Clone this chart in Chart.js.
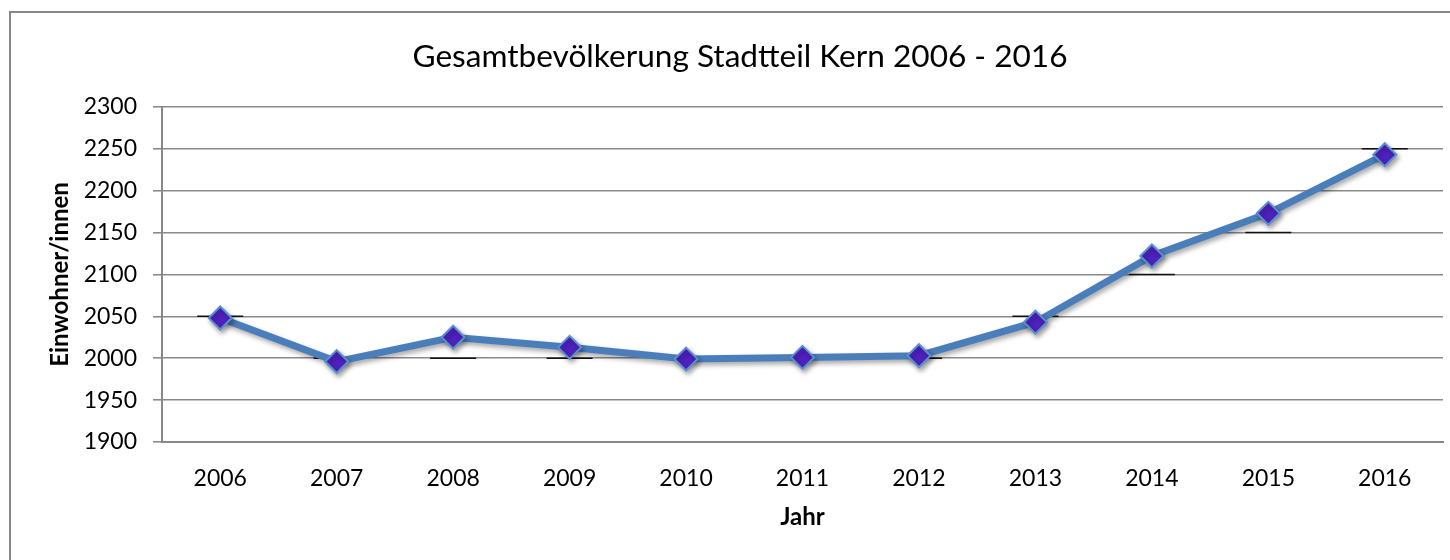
<!DOCTYPE html>
<html>
<head>
<meta charset="utf-8">
<script src="https://cdn.jsdelivr.net/npm/chart.js@4/dist/chart.umd.min.js"></script>
<style>
html,body{margin:0;padding:0;overflow:hidden;background:#fff;width:1450px;height:560px;}
canvas{display:block;}
</style>
</head>
<body>
<canvas id="c" width="1480" height="580"></canvas>
<script>
const years = ['2006','2007','2008','2009','2010','2011','2012','2013','2014','2015','2016'];
const population = [2048, 1996, 2025, 2013, 1999, 2001, 2003, 2043, 2122, 2173, 2243];
const roundedMarks = [2050, 2000, 2000, 2000, 2000, 2000, 2000, 2050, 2100, 2150, 2250];
const yMin = 1900, yMax = 2300, yStep = 50;
const titleText = 'Gesamtbevölkerung Stadtteil Kern 2006 - 2016';
const xTitle = 'Jahr';
const yTitle = 'Einwohner/innen';

const FONT = 'Lato, "Open Sans", sans-serif';

const framePlugin = {
  id: 'frame',
  beforeDraw(chart) {
    const ctx = chart.ctx;
    ctx.save();
    ctx.fillStyle = '#ffffff';
    ctx.fillRect(0, 0, chart.width, chart.height);
    ctx.strokeStyle = '#878787';
    ctx.lineWidth = 2;
    ctx.strokeRect(10, 12, 1460, 560);
    ctx.restore();
  }
};

const shadowPlugin = {
  id: 'shadow',
  beforeDatasetDraw(chart, args) {
    if (args.index !== 0) return;
    const ctx = chart.ctx;
    ctx.save();
    ctx.shadowColor = 'rgba(0,0,0,0.35)';
    ctx.shadowBlur = 5;
    ctx.shadowOffsetX = 2;
    ctx.shadowOffsetY = 3;
  },
  afterDatasetDraw(chart, args) {
    if (args.index !== 0) return;
    chart.ctx.restore();
  }
};

new Chart(document.getElementById('c'), {
  type: 'line',
  data: {
    labels: years,
    datasets: [
      {
        label: 'Gesamtbevölkerung',
        data: population,
        order: 1,
        borderColor: '#4A7EBB',
        borderWidth: 7,
        tension: 0,
        pointStyle: 'rectRot',
        pointRadius: 11.5,
        pointBackgroundColor: '#4F21BF',
        pointBorderColor: '#5A8FD0',
        pointBorderWidth: 2,
        fill: false
      },
      {
        label: 'gerundet',
        data: roundedMarks,
        order: 2,
        showLine: false,
        pointStyle: 'line',
        pointRadius: 23,
        pointBorderColor: '#111111',
        pointBorderWidth: 1.5,
        pointBackgroundColor: '#111111'
      }
    ]
  },
  options: {
    responsive: false,
    animation: false,
    events: [],
    layout: { padding: { left: 37, top: 0, right: 37, bottom: 38 } },
    plugins: {
      legend: { display: false },
      tooltip: { enabled: false },
      title: {
        display: true,
        text: titleText,
        color: '#000',
        font: { family: FONT, size: 31.6, weight: 'normal', lineHeight: 1.2 },
        padding: { top: 38, bottom: 31 }
      }
    },
    scales: {
      x: {
        offset: true,
        grid: { display: false, drawTicks: false, offset: true },
        border: { display: true, color: '#888888', width: 2 },
        ticks: { color: '#000', padding: 23, font: { family: FONT, size: 23, lineHeight: 1.2 } },
        title: { display: true, text: xTitle, color: '#000', padding: { top: 0, bottom: 10 }, font: { family: FONT, size: 24, weight: 'bold', lineHeight: 1.2 } },
        afterFit(scale) { scale.height = 100; }
      },
      y: {
        min: yMin,
        max: yMax,
        grid: { color: '#8a8a8a', lineWidth: 1.6, drawTicks: true, tickLength: 9 },
        border: { display: true, color: '#888888', width: 2 },
        ticks: { stepSize: yStep, color: '#000', padding: 16, font: { family: FONT, size: 23, lineHeight: 1.2 }, callback: v => String(v) },
        title: { display: true, text: yTitle, color: '#000', padding: { top: 9, bottom: 0 }, font: { family: FONT, size: 24, weight: 'bold', lineHeight: 1.2 } },
        afterFit(scale) { scale.width = 125; }
      }
    }
  },
  plugins: [framePlugin, shadowPlugin]
});
</script>
</body>
</html>
